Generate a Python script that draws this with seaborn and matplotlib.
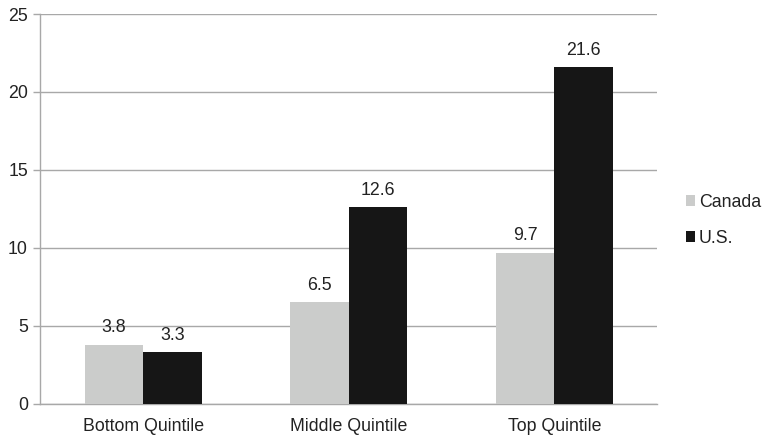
import matplotlib
matplotlib.use("Agg")
import matplotlib.pyplot as plt
import seaborn as sns
import pandas as pd
from matplotlib.patches import Patch

quintiles = ["Bottom Quintile", "Middle Quintile", "Top Quintile"]
countries = ["Canada", "U.S."]
canada_values = [3.8, 6.5, 9.7]
us_values = [3.3, 12.6, 21.6]
y_ticks = [0, 5, 10, 15, 20, 25]

colors = {"Canada": "#cbcccb", "U.S.": "#161616"}
FS = 12.8

df = pd.DataFrame({
    "Quintile": quintiles * 2,
    "Country": ["Canada"] * 3 + ["U.S."] * 3,
    "Value": canada_values + us_values,
})

sns.set_style("white")
plt.rcParams["font.family"] = ["Liberation Sans", "DejaVu Sans"]
plt.rcParams["text.color"] = "#222222"

fig = plt.figure(figsize=(7.64, 4.38), dpi=100)
ax = fig.add_axes([0.053, 0.078, 0.807, 0.890])

sns.barplot(data=df, x="Quintile", y="Value", hue="Country", order=quintiles,
            hue_order=countries, palette=colors, width=0.57, gap=0,
            saturation=1, linewidth=0, ax=ax, legend=False, zorder=3)

for container in ax.containers:
    ax.bar_label(container, fmt="%.1f", padding=6, fontsize=FS, color="#222222")

ax.set_ylim(0, 25)
ax.set_xlim(-0.5, 2.5)
ax.set_yticks(y_ticks)
ax.set_yticklabels([str(t) for t in y_ticks], fontsize=FS, color="#222222")
ax.yaxis.grid(True, color="#a8a8a8", linewidth=1.0, zorder=0)
ax.set_axisbelow(True)

ax.set_xticks(range(len(quintiles)))
ax.set_xticklabels(quintiles, fontsize=FS, color="#222222")
ax.set_xticks([-0.5, 0.5, 1.5, 2.5], minor=True)
ax.tick_params(axis="x", which="major", length=0, pad=10)
ax.tick_params(axis="x", which="minor", length=5, width=1, color="#a8a8a8", direction="out")
ax.tick_params(axis="y", length=5, width=1, color="#a8a8a8", direction="out", pad=4, left=True)

ax.set_xlabel("")
ax.set_ylabel("")
for side in ["top", "right"]:
    ax.spines[side].set_visible(False)
for side in ["left", "bottom"]:
    ax.spines[side].set_color("#a8a8a8")
    ax.spines[side].set_linewidth(1.0)

handles = [Patch(facecolor=colors[c], edgecolor="none", label=c) for c in countries]
fig.legend(handles=handles, loc="center left", bbox_to_anchor=(0.8885, 0.497),
           frameon=False, fontsize=FS, handlelength=0.52, handleheight=0.52,
           handletextpad=0.22, labelspacing=1.05, borderaxespad=0)

fig.savefig("out.png", dpi=100)
